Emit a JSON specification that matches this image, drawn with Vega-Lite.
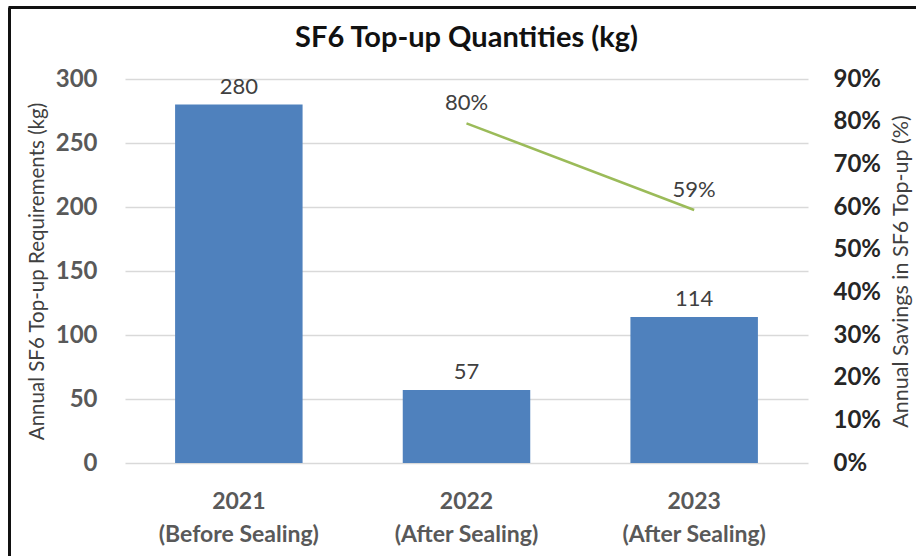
{
  "$schema": "https://vega.github.io/schema/vega-lite/v6.json",
  "width": 683,
  "height": 384,
  "autosize": {"type": "none"},
  "padding": {"left": 125, "top": 79, "right": 108, "bottom": 93},
  "background": "white",
  "title": {
    "text": "SF6 Top-up Quantities (kg)",
    "font": "Lato",
    "fontSize": 29,
    "fontWeight": "bold",
    "color": "#111111",
    "anchor": "middle",
    "frame": "group",
    "offset": -46
  },
  "data": {
    "values": [
      {"period": "2021 (Before Sealing)", "kg": 280, "savings": null},
      {"period": "2022 (After Sealing)", "kg": 57, "savings": 0.796},
      {"period": "2023 (After Sealing)", "kg": 114, "savings": 0.593}
    ]
  },
  "layer": [
    {
      "encoding": {
        "x": {
          "field": "period",
          "type": "nominal",
          "sort": null,
          "scale": {"paddingInner": 0.44, "paddingOuter": 0.22},
          "axis": {
            "title": null,
            "orient": "bottom",
            "labelAngle": 0,
            "labelExpr": "[slice(datum.label, 0, 4), slice(datum.label, 5)]",
            "labelFont": "Lato",
            "labelFontSize": 23,
            "labelFontWeight": "bold",
            "labelColor": "#595959",
            "labelLineHeight": 33,
            "labelPadding": 27,
            "ticks": false,
            "domain": false,
            "grid": false
          }
        }
      },
      "layer": [
        {
          "layer": [
            {
              "mark": {"type": "bar", "color": "#4F81BD"},
              "encoding": {
                "y": {
                  "field": "kg",
                  "type": "quantitative",
                  "scale": {"domain": [0, 300]},
                  "axis": {
                    "orient": "left",
                    "title": "Annual SF6 Top-up Requirements (kg)",
                    "titleFont": "Lato",
                    "titleFontSize": 20.5,
                    "titleFontWeight": "normal",
                    "titleColor": "#404040",
                    "titlePadding": 8,
                    "values": [0, 50, 100, 150, 200, 250, 300],
                    "labelFont": "Lato",
                    "labelFontSize": 24,
                    "labelFontWeight": "bold",
                    "labelColor": "#595959",
                    "labelPadding": 28,
                    "ticks": false,
                    "domain": false,
                    "grid": true,
                    "gridColor": "#d9d9d9",
                    "gridWidth": 1.5
                  }
                }
              }
            },
            {
              "mark": {"type": "text", "font": "Lato", "fontSize": 22, "color": "#404040", "baseline": "middle", "dy": -18},
              "encoding": {
                "y": {"field": "kg", "type": "quantitative"},
                "text": {"field": "kg", "type": "quantitative"}
              }
            }
          ]
        },
        {
          "transform": [{"filter": "datum.savings != null"}],
          "layer": [
            {
              "mark": {"type": "line", "color": "#9BBB59", "strokeWidth": 2.5},
              "encoding": {
                "y": {
                  "field": "savings",
                  "type": "quantitative",
                  "scale": {"domain": [0, 0.9]},
                  "axis": {
                    "orient": "right",
                    "title": "Annual Savings in SF6 Top-up (%)",
                    "titleFont": "Lato",
                    "titleFontSize": 21.5,
                    "titleFontWeight": "normal",
                    "titleColor": "#404040",
                    "titleAngle": 270,
                    "titleBaseline": "top",
                    "titlePadding": 10,
                    "format": ".0%",
                    "values": [0, 0.1, 0.2, 0.3, 0.4, 0.5, 0.6, 0.7, 0.8, 0.9],
                    "labelFont": "Lato",
                    "labelFontSize": 24,
                    "labelFontWeight": "bold",
                    "labelColor": "#262626",
                    "labelPadding": 25,
                    "ticks": false,
                    "domain": false,
                    "grid": false
                  }
                }
              }
            },
            {
              "mark": {"type": "text", "font": "Lato", "fontSize": 22, "color": "#404040", "baseline": "middle", "dy": -20},
              "encoding": {
                "y": {"field": "savings", "type": "quantitative"},
                "text": {"field": "savings", "type": "quantitative", "format": ".0%"}
              }
            }
          ]
        }
      ],
      "resolve": {"scale": {"y": "independent"}}
    },
    {
      "data": {"values": [{"frame": 0}]},
      "mark": {"type": "point", "opacity": 0},
      "encoding": {
        "x": {
          "field": "frame",
          "type": "quantitative",
          "scale": {"domain": [0, 1], "range": [-117, 791]},
          "axis": {"orient": "top", "offset": 72, "title": null, "labels": false, "ticks": false, "grid": false, "domain": true, "domainColor": "#111111", "domainWidth": 3}
        },
        "y": {
          "field": "frame",
          "type": "quantitative",
          "scale": {"domain": [0, 1], "range": [477, -72]},
          "axis": {"orient": "left", "offset": 116, "title": null, "labels": false, "ticks": false, "grid": false, "domain": true, "domainColor": "#111111", "domainWidth": 3}
        }
      }
    }
  ],
  "resolve": {"scale": {"x": "independent", "y": "independent"}},
  "config": {
    "view": {"stroke": null}
  }
}
